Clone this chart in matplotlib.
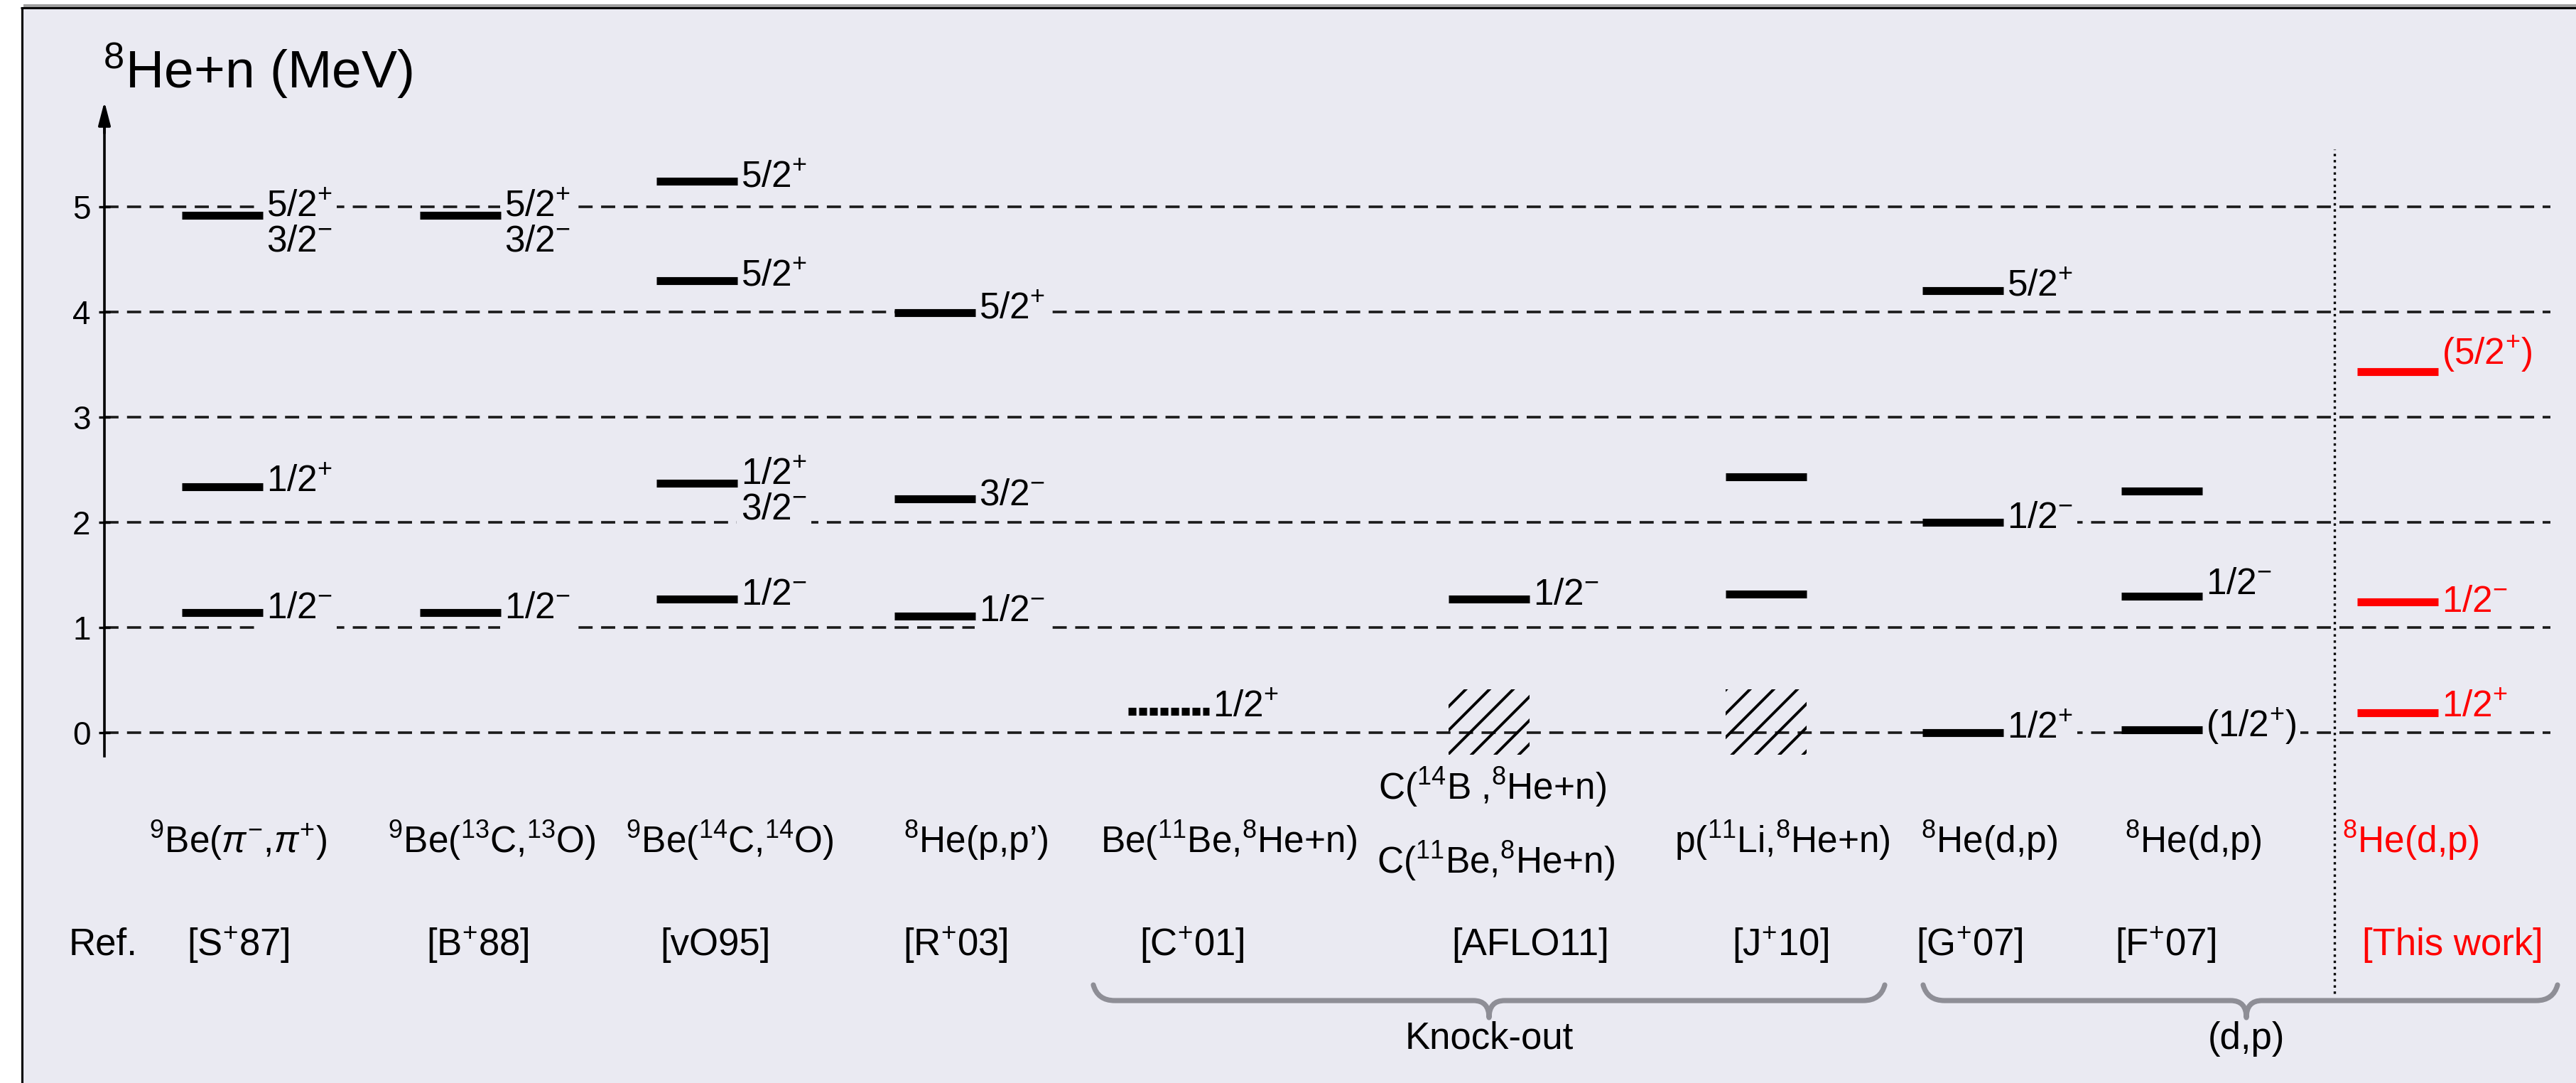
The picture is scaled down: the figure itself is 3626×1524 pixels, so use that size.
import matplotlib
matplotlib.use("Agg")
import matplotlib.pyplot as plt
from matplotlib.patches import Rectangle, PathPatch
from matplotlib.path import Path

plt.rcParams.update({
    "font.family": ["Liberation Sans", "DejaVu Sans"],
    "mathtext.fontset": "custom",
    "mathtext.rm": "Liberation Sans",
    "mathtext.it": "Liberation Sans:italic",
    "mathtext.bf": "Liberation Sans:bold",
    "mathtext.sf": "Liberation Sans",
    "mathtext.default": "regular",
    "hatch.linewidth": 1.4,
})

# ---------------------------------------------------------------- data
reactions = [
    r"$^{9}$Be($\mathit{\pi}^{-}$,$\mathit{\pi}^{+}$)",
    r"$^{9}$Be($^{13}$C,$^{13}$O)",
    r"$^{9}$Be($^{14}$C,$^{14}$O)",
    r"$^{8}$He(p,p’)",
    r"Be($^{11}$Be,$^{8}$He+n)",
    r"C($^{11}$Be,$^{8}$He+n)",
    r"p($^{11}$Li,$^{8}$He+n)",
    r"$^{8}$He(d,p)",
    r"$^{8}$He(d,p)",
    r"$^{8}$He(d,p)",
]
extra_reaction = r"C($^{14}$B ,$^{8}$He+n)"
references = [r"[S$^{+}$87]", r"[B$^{+}$88]", "[vO95]", r"[R$^{+}$03]",
              r"[C$^{+}$01]", "[AFLO11]", r"[J$^{+}$10]", r"[G$^{+}$07]",
              r"[F$^{+}$07]", "[This work]"]

# level energies above the 8He+n threshold (MeV) and their J^pi
e_S87 = [4.92, 2.34, 1.14]
j_S87 = [("5/2+", "3/2-"), ("1/2+",), ("1/2-",)]
e_B88 = [4.92, 1.14]
j_B88 = [("5/2+", "3/2-"), ("1/2-",)]
e_vO95 = [5.24, 4.30, 2.37, 1.27]
j_vO95 = [("5/2+",), ("5/2+",), ("1/2+", "3/2-"), ("1/2-",)]
e_R03 = [3.99, 2.22, 1.11]
j_R03 = [("5/2+",), ("3/2-",), ("1/2-",)]
e_C01 = [0.20]
j_C01 = [("1/2+",)]
e_AFLO11 = [1.27]
j_AFLO11 = [("1/2-",)]
e_J10 = [2.43, 1.32]
j_J10 = [(), ()]
e_G07 = [4.20, 2.00, 0.00]
j_G07 = [("5/2+",), ("1/2-",), ("1/2+",)]
e_F07 = [2.30, 1.30, 0.03]
j_F07 = [(), ("1/2-",), ("(1/2+)",)]
e_this = [3.43, 1.24, 0.19]
j_this = [("(5/2+)",), ("1/2-",), ("1/2+",)]

# low-lying continuum ranges (MeV)
cont_AFLO11 = (-0.21, 0.41)
cont_J10 = (-0.21, 0.41)

energy_ticks = [0, 1, 2, 3, 4, 5]
tick_labels = ["0", "1", "2", "3", "4", "5"]

# ---------------------------------------------------------------- layout
W, H, DPI = 3626, 1524, 200
Y0, S = 1031.0, 148.0          # pixel row of 0 MeV, pixels per MeV
AXIS_X = 147
GRID_END = 3590


def row2e(r):
    return (Y0 - r) / S


col_x = [313, 648, 981, 1316, 1645, 2096, 2486, 2763, 3043, 3375]
HALF = 57
reac_x = [335, 692, 1027, 1374, 1729, 2106, 2509, 2800, 3087, 3393]
ref_x = [335, 672, 1007, 1345, 1678, 2154, 2506, 2772, 3048, 3452]

BLACK, RED = "black", "#ff0000"
BG = "#eaeaf2"

columns = [
    dict(e=e_S87, j=j_S87, c=BLACK),
    dict(e=e_B88, j=j_B88, c=BLACK),
    dict(e=e_vO95, j=j_vO95, c=BLACK),
    dict(e=e_R03, j=j_R03, c=BLACK),
    dict(e=e_C01, j=j_C01, c=BLACK, dotted=True),
    dict(e=e_AFLO11, j=j_AFLO11, c=BLACK, cont=cont_AFLO11),
    dict(e=e_J10, j=j_J10, c=BLACK, cont=cont_J10),
    dict(e=e_G07, j=j_G07, c=BLACK),
    dict(e=e_F07, j=j_F07, c=BLACK, lift=[0.0, 0.11, 0.03]),
    dict(e=e_this, j=j_this, c=RED, lift=[0.17, 0.0, 0.05]),
]


def jpi_text(s):
    paren = s.startswith("(")
    core = s.strip("()")
    t = core[:-1] + r"$^{" + core[-1] + "}$"
    return "(" + t + ")" if paren else t


fig = plt.figure(figsize=(W / DPI, H / DPI), dpi=DPI, facecolor="white")
ax = fig.add_axes([0, 0, 1, 1])
ax.set_facecolor("none")
ax.set_xlim(0, W)
ax.set_ylim(row2e(H), row2e(0))

# panel background and frame
ax.add_patch(Rectangle((30, row2e(H)), W - 30, row2e(11) - row2e(H),
                       facecolor=BG, edgecolor="none", zorder=-10))
ax.plot([33, W], [row2e(8), row2e(8)], color="#a0a0a0", lw=1.5,
        solid_capstyle="butt", zorder=-5)
ax.plot([29, W], [row2e(11.5), row2e(11.5)], color="black", lw=1.1,
        solid_capstyle="butt", zorder=-5)
ax.plot([30.5, 30.5], [row2e(11), row2e(H)], color="black", lw=1.1,
        solid_capstyle="butt", zorder=-5)

# energy axis
for side in ("top", "right", "bottom"):
    ax.spines[side].set_visible(False)
ax.spines["left"].set_position(("data", AXIS_X))
ax.spines["left"].set_bounds(-0.22, 5.85)
ax.spines["left"].set_linewidth(1.3)
ax.set_xticks([])
ax.set_yticks(energy_ticks)
ax.set_yticklabels(tick_labels)
ax.tick_params(axis="y", direction="inout", length=6, width=1.2, pad=4,
               labelsize=16.5)
ax.annotate("", xy=(AXIS_X, 6.0), xytext=(AXIS_X, 5.7),
            arrowprops=dict(arrowstyle="-|>,head_length=0.5,head_width=0.13",
                            color="black", lw=1.3, mutation_scale=20,
                            shrinkA=0, shrinkB=0))
ax.text(AXIS_X - 2, row2e(100), r"$^{8}$He+n (MeV)", fontsize=27,
        ha="left", va="center")

# dashed reference lines at integer energies
ax.hlines(energy_ticks, AXIS_X, GRID_END, colors="#1a1a1a",
          linestyles=(0, (5.5, 3.3)), lw=1.3, zorder=1)

# separator between earlier results and this work
ax.vlines(3286, row2e(1398), row2e(210), colors="black",
          linestyles=(0, (1, 1.6)), lw=1.2, zorder=1)

# levels
for k, col in enumerate(columns):
    xc = col_x[k]
    lifts = col.get("lift", [0.03] * len(col["e"]))
    for i, (e, jp) in enumerate(zip(col["e"], col["j"])):
        ls = (0, (1.0, 0.35)) if col.get("dotted") else "-"
        ax.plot([xc - HALF, xc + HALF], [e, e], color=col["c"], lw=4.0,
                ls=ls, solid_capstyle="butt", dash_capstyle="butt", zorder=4)
        if len(jp) == 1:
            offs = [lifts[i] if "lift" in col else 0.04]
        elif len(jp) == 2:
            offs = [0.08, -0.25]
        else:
            offs = []
        for lab, dy in zip(jp, offs):
            ax.text(xc + HALF + 5, e + dy, jpi_text(lab), fontsize=18.5,
                    color=col["c"], ha="left", va="center", zorder=3,
                    bbox=dict(boxstyle="square,pad=0.12", fc=BG, ec="none"))
    if "cont" in col:
        lo, hi = col["cont"]
        ax.add_patch(Rectangle((xc - HALF, lo), 2 * HALF, hi - lo,
                               facecolor="none", edgecolor="black", lw=0,
                               hatch="//", zorder=4))

# reaction and reference labels
for k in range(len(columns)):
    c = RED if k == len(columns) - 1 else BLACK
    yr = row2e(1212) if k == 5 else row2e(1183)
    ax.text(reac_x[k], yr, reactions[k], fontsize=18.5, ha="center",
            va="center", color=c)
    ax.text(ref_x[k], row2e(1330), references[k], fontsize=19, ha="center",
            va="center", color=c)
ax.text(2100, row2e(1108), extra_reaction, fontsize=18.5, ha="center",
        va="center")
ax.text(145, row2e(1330), "Ref.", fontsize=19, ha="center", va="center")


def brace(x0, x1, xt, label):
    top, flat, tip = row2e(1386), row2e(1408), row2e(1432)
    r, r2 = 30, 22
    verts = [(x0, top), (x0 + 6, flat), (x0 + r, flat),
             (xt - r2, flat), (xt, flat), (xt, tip),
             (xt, flat), (xt + r2, flat),
             (x1 - r, flat), (x1 - 6, flat), (x1, top)]
    codes = [Path.MOVETO, Path.CURVE3, Path.CURVE3,
             Path.LINETO, Path.CURVE3, Path.CURVE3,
             Path.CURVE3, Path.CURVE3,
             Path.LINETO, Path.CURVE3, Path.CURVE3]
    ax.add_patch(PathPatch(Path(verts, codes), fc="none", ec="#8e8e96",
                           lw=2.6, capstyle="round", joinstyle="round"))
    ax.text(xt, row2e(1462), label, fontsize=19, ha="center", va="center")


brace(1539, 2653, 2096, "Knock-out")
brace(2707, 3600, 3162, "(d,p)")

fig.savefig("out.png", dpi=DPI, facecolor="white")
